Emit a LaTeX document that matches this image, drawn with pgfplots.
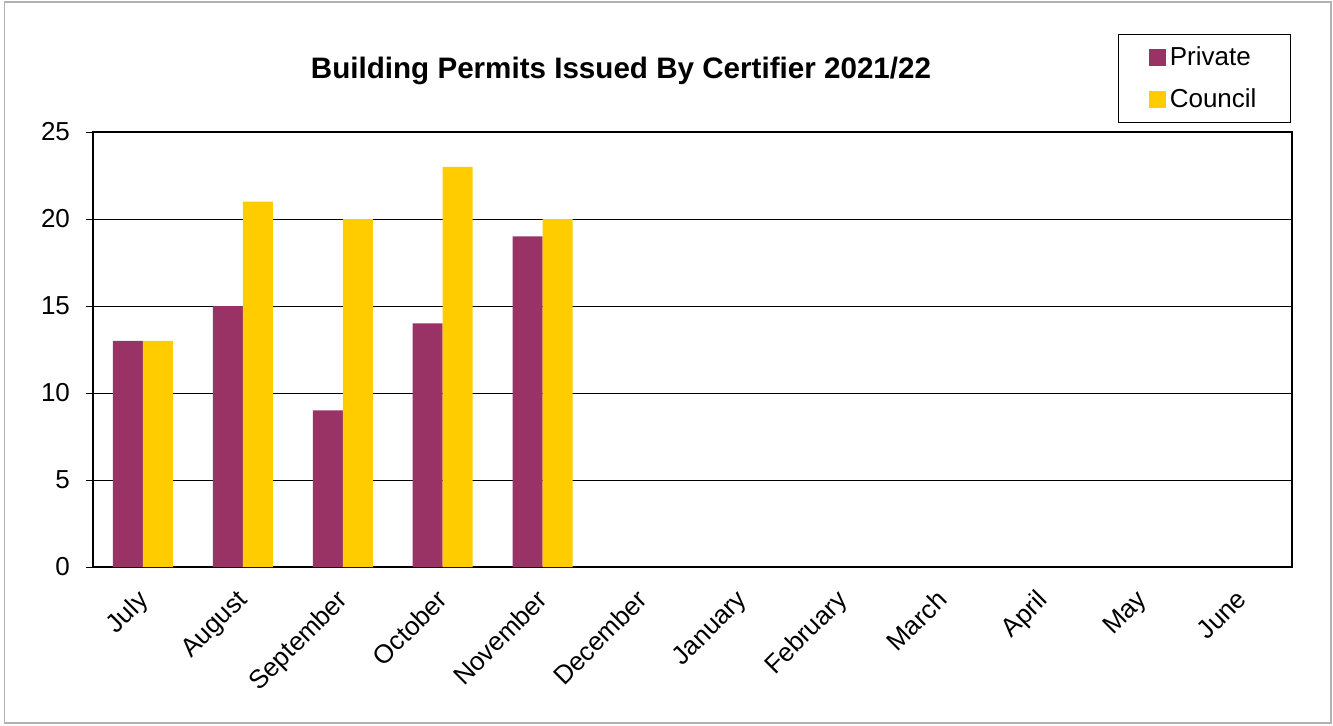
\documentclass[border=0pt]{standalone}
\usepackage{pgfplots}
\pgfplotsset{compat=1.18}
\usepackage{fontspec}
\setmainfont{Liberation Sans}
\definecolor{priv}{HTML}{993366}
\definecolor{coun}{HTML}{FFCC00}
\begin{document}
\begin{tikzpicture}
\useasboundingbox (0,0) rectangle (666.5pt,362.5pt);
\draw[gray!60, line width=0.6pt] (2.3pt,1pt) rectangle (665.5pt,361.5pt);
\node[font=\fontsize{14.8}{17}\selectfont\bfseries] at (310.5pt,327pt) {Building Permits Issued By Certifier 2021/22};
\begin{axis}[
  at={(46.5pt,79pt)}, anchor=south west,
  scale only axis, width=599.5pt, height=217.5pt,
  ybar=0pt, bar width=15pt,
  xmin=-0.5, xmax=11.5, ymin=0, ymax=25,
  ytick={0,5,...,25},
  xtick={0,...,11},
  xticklabels={July,August,September,October,November,December,January,February,March,April,May,June},
  minor xtick={-0.5,0.5,...,11.5},
  xtick pos=bottom, ytick pos=left,
  /pgf/number format/assume math mode=true,
  tick label style={font=\fontsize{13}{15}\selectfont},
  x tick label style={xshift=-3.5pt, yshift=-5.5pt, rotate=45, anchor=north east, inner sep=1pt},
  y tick label style={xshift=-4.5pt},
  tick align=outside,
  xtick style={draw=none},
  minor x tick style={black, line width=0.5pt},
  ytick style={black, line width=0.5pt},
  major tick length=3.5pt, minor tick length=3.5pt,
  ymajorgrids, grid style={black, line width=0.5pt},
  axis line style={black, line width=1pt},
  legend style={at={(1,1)}, anchor=south east, yshift=4.5pt, xshift=-0.5pt, draw=black, line width=0.5pt,
    font=\fontsize{13}{15}\selectfont, inner xsep=15pt, inner ysep=4pt, row sep=6pt},
  legend cell align=left,
  legend image code/.code={\fill[#1] (0pt,-4.2pt) rectangle (8.5pt,4.2pt);},
]
\addplot[fill=priv, draw=none] coordinates {(0,13) (1,15) (2,9) (3,14) (4,19)};
\addplot[fill=coun, draw=none] coordinates {(0,13) (1,21) (2,20) (3,23) (4,20)};
\legend{Private,Council}
\end{axis}
\end{tikzpicture}
\end{document}
